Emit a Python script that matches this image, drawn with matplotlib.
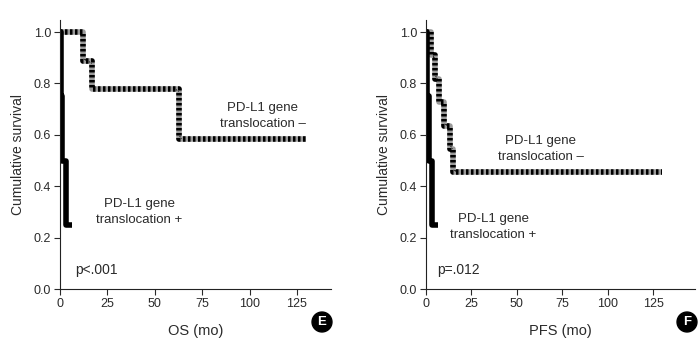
import matplotlib.pyplot as plt

plt.rcParams['font.family'] = ['Liberation Sans', 'DejaVu Sans']

# Kaplan-Meier step data
os_neg_t = [0, 12, 17, 63, 130]
os_neg_s = [1.0, 0.889, 0.778, 0.583, 0.583]
os_pos_t = [0, 0.6, 1.3, 3.0, 6.5]
os_pos_s = [1.0, 0.75, 0.5, 0.25, 0.25]

pfs_neg_t = [0, 3, 5, 7, 10, 13, 15, 130]
pfs_neg_s = [1.0, 0.909, 0.818, 0.727, 0.636, 0.545, 0.455, 0.455]
pfs_pos_t = [0, 0.6, 1.4, 3.2, 6.5]
pfs_pos_s = [1.0, 0.75, 0.5, 0.25, 0.25]

xticks = [0, 25, 50, 75, 100, 125]
yticks = [0.0, 0.2, 0.4, 0.6, 0.8, 1.0]
txt_col = '#2a2a2a'

fig = plt.figure(figsize=(7, 3.39), dpi=100)
ax1 = fig.add_axes([60/700, 50/339, 271/700, 269/339])
ax2 = fig.add_axes([426/700, 50/339, 269/700, 269/339])


def style(ax, xmax, xlabel, letter, lx):
    ax.set_xlim(0, xmax)
    ax.set_ylim(0, 1.047)
    ax.set_xticks(xticks)
    ax.set_yticks(yticks)
    ax.set_yticklabels(['%.1f' % v for v in yticks])
    for s in ['top', 'right']:
        ax.spines[s].set_visible(False)
    for s in ['left', 'bottom']:
        ax.spines[s].set_linewidth(0.8)
        ax.spines[s].set_color('#222222')
    ax.tick_params(direction='out', length=4, width=0.8, labelsize=9,
                   colors=txt_col, pad=2.5)
    ax.set_xlabel(xlabel, fontsize=10.5, color=txt_col, labelpad=10)
    ax.set_ylabel('Cumulative survival', fontsize=10, color=txt_col, labelpad=6)
    fig.text(lx, 17/339, letter, fontsize=9.5, fontweight='bold', color='white',
             ha='center', va='center',
             bbox=dict(boxstyle='circle,pad=0.3', fc='black', ec='black'))


def km(ax, t, s, neg):
    if neg:
        ax.step(t, s, where='post', color='#9a9a9a', lw=4, solid_capstyle='butt')
        ax.step(t, s, where='post', color='black', lw=4,
                linestyle=(0, (0.45, 0.45)))
    else:
        ax.step(t, s, where='post', color='black', lw=4, solid_capstyle='butt')


km(ax1, os_neg_t, os_neg_s, True)
km(ax1, os_pos_t, os_pos_s, False)
km(ax2, pfs_neg_t, pfs_neg_s, True)
km(ax2, pfs_pos_t, pfs_pos_s, False)

style(ax1, 143, 'OS (mo)', 'E', 322/700)
style(ax2, 148, 'PFS (mo)', 'F', 687/700)

lab = dict(fontsize=9.5, color=txt_col, ha='center', va='center', linespacing=1.45)
ax1.text(107, 0.675, 'PD-L1 gene\ntranslocation \u2013', **lab)
ax1.text(42, 0.30, 'PD-L1 gene\ntranslocation +', **lab)
ax1.text(8, 0.075, 'p<.001', fontsize=10, color=txt_col, ha='left', va='center')

ax2.text(63, 0.545, 'PD-L1 gene\ntranslocation \u2013', **lab)
ax2.text(37, 0.24, 'PD-L1 gene\ntranslocation +', **lab)
ax2.text(6, 0.075, 'p=.012', fontsize=10, color=txt_col, ha='left', va='center')

fig.savefig('out.png', dpi=100)
